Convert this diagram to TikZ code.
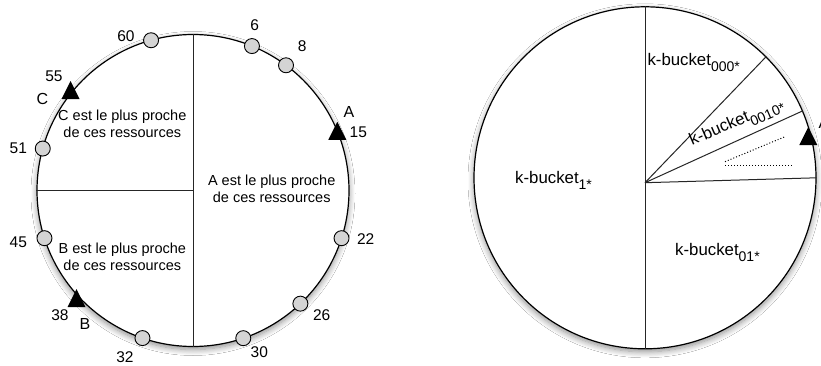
\documentclass[tikz,border=0pt]{standalone}
\usepackage{fontspec}
\setmainfont{Liberation Sans}
\usetikzlibrary{calc,shadows.blur}
\newcommand{\kbk}[1]{k-bucket\raisebox{-6pt}{\fontsize{14}{14}\selectfont #1}}
\tikzset{
  ring/.style={circle, draw, line width=1.2pt, fill=white, inner sep=0pt,
    blur shadow={shadow xshift=0pt, shadow yshift=-3pt, shadow blur radius=6pt, shadow blur steps=8, shadow opacity=45}},
  divider/.style={draw=black!85, line width=1pt},
  dotnode/.style={circle, draw, line width=0.9pt, fill=black!17, minimum size=15pt, inner sep=0pt},
  num/.style={font=\fontsize{15.5}{16}\selectfont, inner sep=0pt},
  letter/.style={font=\fontsize{16}{16}\selectfont, inner sep=0pt},
  block/.style={font=\fontsize{14.5}{16.7}\selectfont, align=center, inner sep=0pt},
  kb/.style={font=\fontsize{16.8}{18}\selectfont, inner sep=0pt},
  dotline/.style={line width=1pt, dash pattern=on 1pt off 2pt},
  tri/.style={fill=black}
}
\begin{document}
\begin{tikzpicture}[x=1pt,y=1pt]
\useasboundingbox (0,0) rectangle (821,365);
\clip (0,0) rectangle (821,365);
\fill[white] (0,0) rectangle (821,365);
% ---------------- left ring ----------------
\node[ring, minimum size=312pt] (L) at (193,174.5) {};
\draw[divider] (L.north) -- (L.south);
\draw[divider] (L.west) -- (L.center);
% dots
\node[dotnode] (d60) at ($(L.center)+(105.6:156pt)$) {};
\node[dotnode] (d6)  at ($(L.center)+(67.8:156pt)$) {};
\node[dotnode] (d8)  at ($(L.center)+(53.4:156pt)$) {};
\node[dotnode] (d22) at ($(L.center)+(-17.8:156pt)$) {};
\node[dotnode] (d26) at ($(L.center)+(-46.5:156pt)$) {};
\node[dotnode] (d30) at ($(L.center)+(-71.2:156pt)$) {};
\node[dotnode] (d32) at ($(L.center)+(-108.9:156pt)$) {};
\node[dotnode] (d45) at ($(L.center)+(-162.2:156pt)$) {};
\node[dotnode] (d51) at ($(L.center)+(164.4:156pt)$) {};
% triangles
\coordinate (tA) at (337.3,234.2);
\coordinate (tB) at (76.5,67);
\coordinate (tC) at (70.5,275);
\fill[tri] (tA) ++(-9,-9) -- ++(18,0) -- ++(-9,18) -- cycle;
\fill[tri] (tB) ++(-9,-9) -- ++(18,0) -- ++(-9,18) -- cycle;
\fill[tri] (tC) ++(-9,-9) -- ++(18,0) -- ++(-9,18) -- cycle;
% number labels
\node[num] (n60) at (126,329.3) {60};
\node[num] (n6)  at (254.7,340) {6};
\node[num] (n8)  at (302.3,319) {8};
\node[num] (n15) at (358.3,232.3) {15};
\node[num] (n22) at (365.7,126.3) {22};
\node[num] (n26) at (321.7,50) {26};
\node[num] (n30) at (259.3,12.7) {30};
\node[num] (n32) at (125,8.3) {32};
\node[num] (n38) at (60,50) {38};
\node[num] (n45) at (18.3,122.3) {45};
\node[num] (n51) at (18.3,216.7) {51};
\node[num] (n55) at (54,289) {55};
\node[letter] (lA) at (349,252.7) {A};
\node[letter] (lB) at (85,41) {B};
\node[letter] (lC) at (42.3,266.3) {C};
% blocks
\node[block] (bC) at (122.3,241) {C est le plus proche\\de ces ressources};
\node[block] (bA) at (271.7,176) {A est le plus proche\\de ces ressources};
\node[block] (bB) at (122.3,108.3) {B est le plus proche\\de ces ressources};
% ---------------- right ring ----------------
\node[ring, minimum size=342pt] (R) at (645,187.2) {};
\coordinate (P) at (645,182.3);
\draw[divider] (R.north) -- (R.south);
\draw[divider] (P) -- (R.0);
\draw[divider] (P) -- (R.45);
\draw[divider] (P) -- (R.23.4);
\coordinate (dd1) at (725,203.3);
\coordinate (dd2) at (785,228.3);
\coordinate (dh1) at (725,200);
\coordinate (dh2) at (791.7,200);
\draw[dotline] (dd1) -- (dd2);
\draw[dotline] (dh1) -- (dh2);
\coordinate (tA2) at (808.3,229);
\fill[tri] (tA2) ++(-9,-9) -- ++(18,0) -- ++(-9,18) -- cycle;
\node[letter] (lA2) at (824,242) {A};
\node[kb, anchor=base west] (k1) at (515,181.7) {\kbk{1*}};
\node[kb, anchor=base west] (k000) at (647.3,300) {\kbk{000*}};
\node[kb, anchor=base west] (k01) at (675,110) {\kbk{01*}};
\node[kb, anchor=base west, rotate=23.4] (k0010) at (692,219) {\kbk{0010*}};
\end{tikzpicture}
\end{document}
